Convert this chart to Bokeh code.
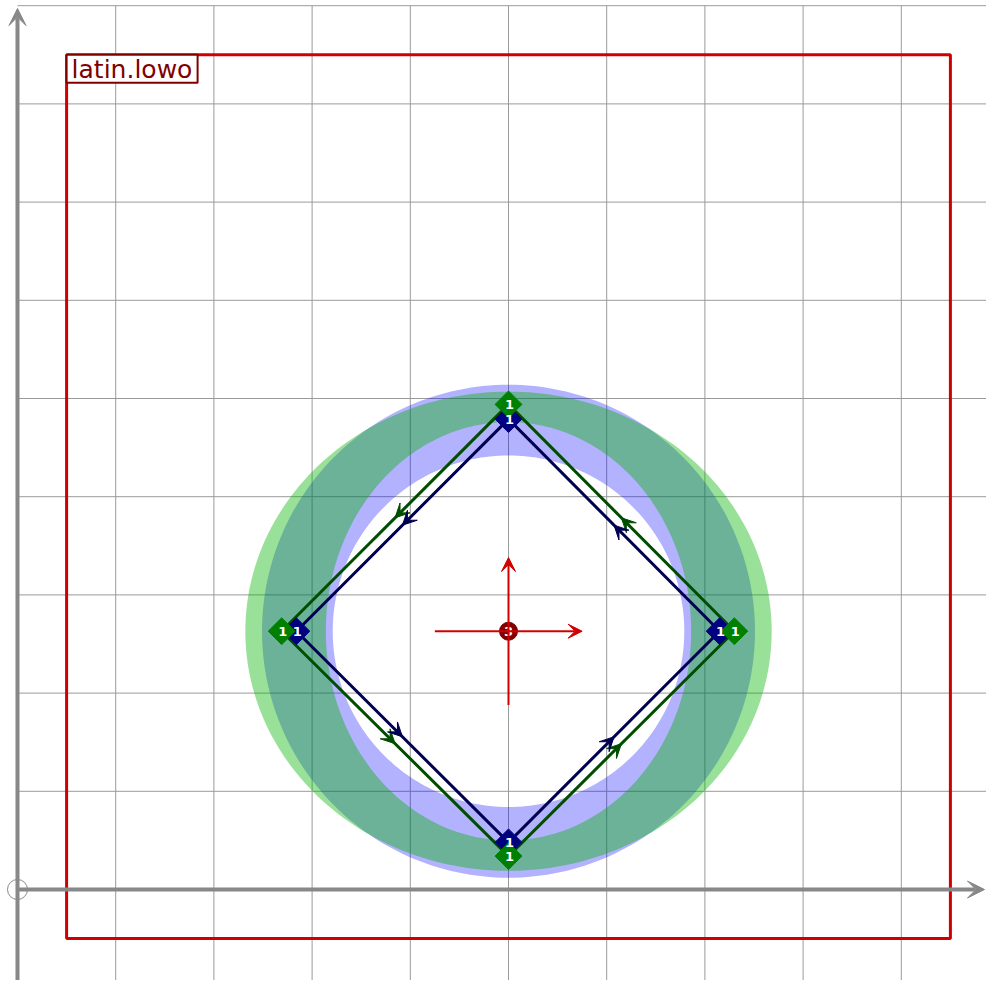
import numpy as np
from bokeh.plotting import figure
from bokeh.models import Range1d, Arrow, VeeHead, ColumnDataSource
from bokeh.core.properties import value
from bokeh.embed import file_html
from bokeh.resources import INLINE

# ---- data (font units) ----
grid_x = [100, 200, 300, 400, 500, 600, 700, 800, 900]
grid_y = [100, 200, 300, 400, 500, 600, 700, 800, 900]
grid_top = 900
grid_right = 1010
glyph_name = ["latin.lowo"]
box_left, box_right, box_bottom, box_top = 50, 950, -50, 850

center_x, center_y = 500, 263
blue_rx = [251, 179]   # outer, inner
blue_ry = [251, 179]
green_rx = [268, 186]
green_ry = [244, 213]

blue_pts_x = [500, 284, 500, 715]
blue_pts_y = [479, 263, 48, 263]
green_pts_x = [500, 269, 500, 730]
green_pts_y = [494, 263, 34, 263]
pt_labels = ["1", "1", "1", "1"]
anchor_label = ["3"]
cross_len = 75

# ---- figure ----
W, H = 986, 980
OX, OY = 17, 889          # origin in pixels
S = 0.982                 # pixels per font unit
p = figure(width=W, height=H,
           x_range=Range1d(-OX / S, (W - OX) / S),
           y_range=Range1d((OY - H) / S, OY / S),
           output_backend="svg", toolbar_location=None,
           x_axis_location=None, y_axis_location=None,
           min_border=0, outline_line_color=None)
p.grid.visible = False

GRID = "#9a9a9a"
AX = "#888888"
# grid
p.segment(x0=grid_x, y0=[-200] * len(grid_x), x1=grid_x, y1=[grid_top] * len(grid_x),
          line_color=GRID, line_width=1)
p.segment(x0=[0] * len(grid_y), y0=grid_y, x1=[grid_right] * len(grid_y), y1=grid_y,
          line_color=GRID, line_width=1)

# rings
def ellipse(cx, cy, rx, ry, n=240):
    t = np.linspace(0, 2 * np.pi, n, endpoint=False)
    return list(cx + rx * np.cos(t)), list(cy + ry * np.sin(t))

def ring(rx, ry):
    ox, oy = ellipse(center_x, center_y, rx[0], ry[0])
    ix, iy = ellipse(center_x, center_y, rx[1], ry[1])
    return [[[ox, ix]]], [[[oy, iy]]]

bx, by = ring(blue_rx, blue_ry)
p.multi_polygons(xs=bx, ys=by, fill_color="#0000ff", fill_alpha=0.3, line_color=None)
gx, gy = ring(green_rx, green_ry)
p.multi_polygons(xs=gx, ys=gy, fill_color="#00b200", fill_alpha=0.4, line_color=None)

# axes
p.add_layout(Arrow(end=VeeHead(size=17, fill_color=AX, line_color=AX),
                   x_start=0, y_start=0, x_end=(W - 2 - OX) / S, y_end=0,
                   line_color=AX, line_width=4))
p.add_layout(Arrow(end=VeeHead(size=17, fill_color=AX, line_color=AX),
                   x_start=0, y_start=-200, x_end=0, y_end=(OY - 8) / S,
                   line_color=AX, line_width=4))
p.scatter([0], [0], marker="circle", size=20, fill_color="white",
          line_color=AX, line_width=1)

# red box
p.quad(left=box_left, right=box_right, bottom=box_bottom, top=box_top,
       fill_color=None, line_color="#d00000", line_width=3)

# contours
def contour(xs, ys, lc):
    cx = xs + [xs[0]]
    cy = ys + [ys[0]]
    p.line(cx, cy, line_color=lc, line_width=3)
    n = len(xs)
    src = ColumnDataSource(dict(
        xs=xs, ys=ys,
        xe=[(xs[i] + xs[(i + 1) % n]) / 2 for i in range(n)],
        ye=[(ys[i] + ys[(i + 1) % n]) / 2 for i in range(n)]))
    p.add_layout(Arrow(end=VeeHead(size=14, fill_color=lc, line_color=lc, line_width=1),
                       x_start="xs", y_start="ys", x_end="xe", y_end="ye",
                       line_alpha=0, source=src))

contour(green_pts_x, green_pts_y, "#004d00")
contour(blue_pts_x, blue_pts_y, "#000050")

# point markers: blue first, green on top, then all labels
sets = [(blue_pts_x, blue_pts_y, "#000080"), (green_pts_x, green_pts_y, "#008000")]
for xs, ys, mc in sets:
    p.scatter(xs, ys, marker="square", size=19, angle=np.pi / 4,
              fill_color=mc, line_color=mc, line_width=1)
for xs, ys, mc in sets:
    p.text([x + 1 / S for x in xs], ys, text=pt_labels, text_color="white",
           text_font=value("DejaVu Sans"),
           text_font_style="bold", text_font_size="13px",
           text_align="center", text_baseline="middle")

# red cross
RED = "#d00000"
p.add_layout(Arrow(end=VeeHead(size=14, fill_color=RED, line_color=RED),
                   x_start=center_x - cross_len, y_start=center_y,
                   x_end=center_x + cross_len, y_end=center_y,
                   line_color=RED, line_width=2))
p.add_layout(Arrow(end=VeeHead(size=14, fill_color=RED, line_color=RED),
                   x_start=center_x, y_start=center_y - cross_len,
                   x_end=center_x, y_end=center_y + cross_len,
                   line_color=RED, line_width=2))
p.scatter([center_x], [center_y], marker="circle", size=18,
          fill_color="#800000", line_color="#800000")
p.text([center_x], [center_y], text=anchor_label, text_color="white",
       text_font=value("DejaVu Sans"), text_font_style="bold", text_font_size="13px",
       text_align="center", text_baseline="middle")

# glyph name label (box + text)
lbl_w, lbl_h = 131 / S, 28 / S
p.quad(left=[box_left], right=[box_left + lbl_w], top=[box_top], bottom=[box_top - lbl_h],
       fill_color="white", line_color="#800000", line_width=2)
p.text([box_left + 5 / S], [box_top - lbl_h / 2 - 1 / S], text=glyph_name,
       text_color="#800000", text_font=value("DejaVu Sans"), text_font_size="25px",
       text_align="left", text_baseline="middle")

open("out.html", "w").write(file_html(p, INLINE))
